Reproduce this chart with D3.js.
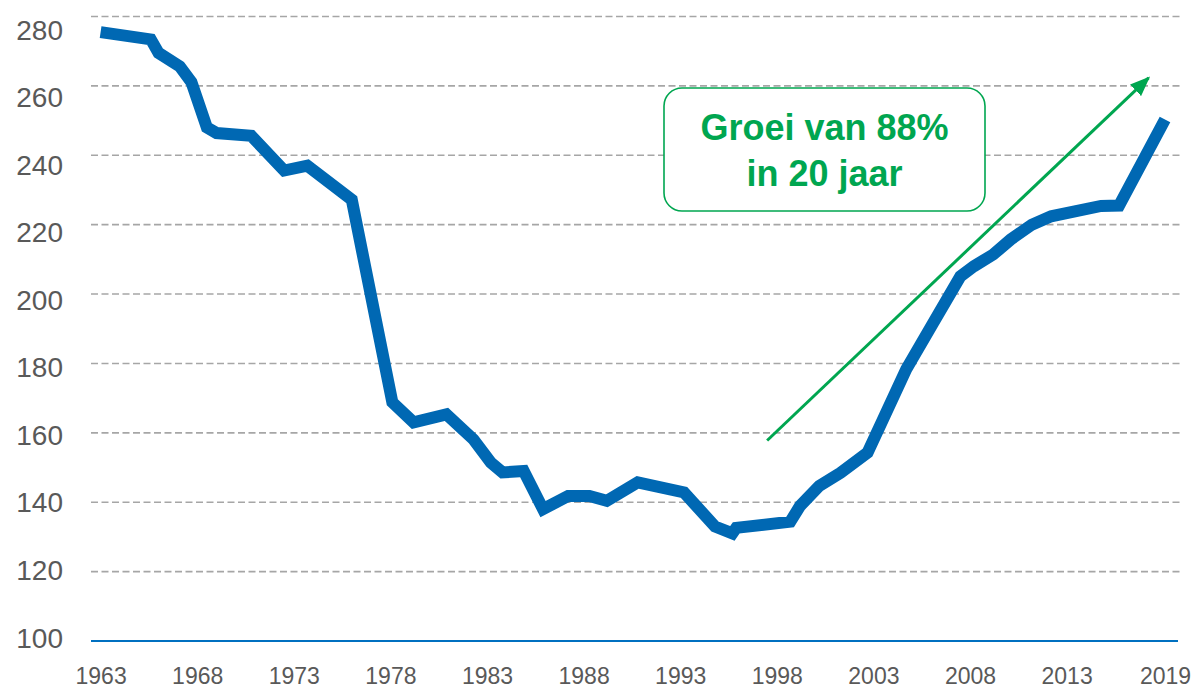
<!DOCTYPE html>
<html>
<head>
<meta charset="utf-8">
<script src="https://cdn.jsdelivr.net/npm/d3@7"></script>
<style>
  body { margin: 0; background: #fff; }
  svg { display: block; font-family: "Liberation Sans", Arial, sans-serif; }
</style>
</head>
<body>
<svg id="chart"></svg>
<script>
// data (years are fractional where the line bends between years)
const years = [1963, 1965.6, 1966.0, 1967.1, 1967.7, 1968.5, 1969.0, 1970.8, 1972.5, 1973.7,
  1976.0, 1978.1, 1979.2, 1980.9, 1982.3, 1983.2, 1983.8, 1984.9, 1985.9, 1987.2,
  1988.3, 1989.2, 1990.8, 1993.2, 1994.8, 1995.7, 1995.9, 1998.7, 1999.2, 2000.2,
  2001.3, 2002.7, 2003.5, 2004.7, 2006.1, 2007.5, 2008.2, 2009.2, 2010.1, 2011.2,
  2012.2, 2015.1, 2016.2, 2019.0];
const values = [275.5, 273.4, 269.5, 265.6, 261.1, 248.0, 246.4, 245.6, 235.6, 237.0,
  227.2, 168.8, 163.0, 165.3, 158.1, 151.4, 148.6, 149.0, 138.0, 141.8,
  141.8, 140.4, 145.7, 142.8, 133.0, 131.0, 132.6, 134.4, 138.9, 144.7,
  148.5, 154.3, 163.9, 178.3, 191.7, 205.1, 208.0, 211.4, 215.7, 220.0,
  222.4, 225.4, 225.5, 250.3];

const xTicks = [1963, 1968, 1973, 1978, 1983, 1988, 1993, 1998, 2003, 2008, 2013, 2019];
const yTicks = [100, 120, 140, 160, 180, 200, 220, 240, 260, 280];

// trend arrow annotation (start and end, data units)
const arrowYears = [1997.5, 2018.0];
const arrowValues = [157.8, 262.3];
const noteLines = ['Groei van 88%', 'in 20 jaar'];

const width = 1195, height = 688;
const blue = '#0068B3';
const green = '#00A650';

const svg = d3.select('#chart')
  .attr('width', width)
  .attr('height', height);

// x: labels are evenly spaced, last step (2013-2019) is squeezed into one label step
const x = d3.scaleLinear()
  .domain([1963, 2013, 2019])
  .range([100.6, 1066.6, 1165]);
const y = d3.scaleLinear()
  .domain([100, 280])
  .range([641, 16.5]);
// the value labels sit slightly off the gridlines in the original
const yLabel = d3.scaleLinear()
  .domain([100, 280])
  .range([637, 29]);

const gridLeft = 91, gridRight = 1180;

// gridlines
svg.append('g')
  .selectAll('line')
  .data(yTicks.filter(d => d > 100))
  .enter()
  .append('line')
    .attr('x1', gridLeft)
    .attr('x2', gridRight)
    .attr('y1', d => y(d))
    .attr('y2', d => y(d))
    .attr('stroke', '#A6A6A6')
    .attr('stroke-width', 1.6)
    .attr('stroke-dasharray', '7,3.5');

// base line at 100
svg.append('line')
  .attr('x1', gridLeft)
  .attr('x2', gridRight - 2)
  .attr('y1', y(100))
  .attr('y2', y(100))
  .attr('stroke', '#0070C0')
  .attr('stroke-width', 2);

// y axis labels
const yAxis = d3.axisLeft(yLabel).tickValues(yTicks).tickSize(0).tickPadding(0);
const gy = svg.append('g')
  .attr('transform', 'translate(63,0)')
  .call(yAxis);
gy.select('.domain').remove();
gy.selectAll('text')
  .attr('fill', '#595959')
  .style('font-size', '28px')
  .attr('dy', '0.36em');

// x axis labels
const xAxis = d3.axisBottom(x).tickValues(xTicks).tickFormat(d3.format('d')).tickSize(0).tickPadding(0);
const gx = svg.append('g')
  .attr('transform', 'translate(0,684)')
  .call(xAxis);
gx.select('.domain').remove();
gx.selectAll('text')
  .attr('fill', '#595959')
  .style('font-size', '23px')
  .attr('y', 0)
  .attr('dy', null);

// main line
const line = d3.line()
  .x(d => x(d[0]))
  .y(d => y(d[1]));
svg.append('path')
  .datum(years.map((yr, i) => [yr, values[i]]))
  .attr('d', line)
  .attr('fill', 'none')
  .attr('stroke', blue)
  .attr('stroke-width', 12)
  .attr('stroke-linejoin', 'miter');

// arrow
svg.append('defs').append('marker')
  .attr('id', 'head')
  .attr('markerUnits', 'userSpaceOnUse')
  .attr('viewBox', '0 0 20 16')
  .attr('refX', 18)
  .attr('refY', 8)
  .attr('markerWidth', 20)
  .attr('markerHeight', 16)
  .attr('orient', 'auto')
  .append('path')
    .attr('d', 'M0,0 L20,8 L0,16 Z')
    .attr('fill', green);

svg.append('line')
  .attr('x1', x(arrowYears[0]))
  .attr('y1', y(arrowValues[0]))
  .attr('x2', x(arrowYears[1]))
  .attr('y2', y(arrowValues[1]))
  .attr('stroke', green)
  .attr('stroke-width', 3)
  .attr('marker-end', 'url(#head)');

// note box
const note = svg.append('g');
note.append('rect')
  .attr('x', 664)
  .attr('y', 88)
  .attr('width', 321)
  .attr('height', 123)
  .attr('rx', 18)
  .attr('fill', '#fff')
  .attr('stroke', green)
  .attr('stroke-width', 1.6);
note.selectAll('text')
  .data(noteLines)
  .enter()
  .append('text')
    .attr('x', 824.5)
    .attr('y', (d, i) => 140 + i * 46)
    .attr('text-anchor', 'middle')
    .attr('fill', green)
    .style('font-size', '36px')
    .style('font-weight', 'bold')
    .text(d => d);
</script>
</body>
</html>
